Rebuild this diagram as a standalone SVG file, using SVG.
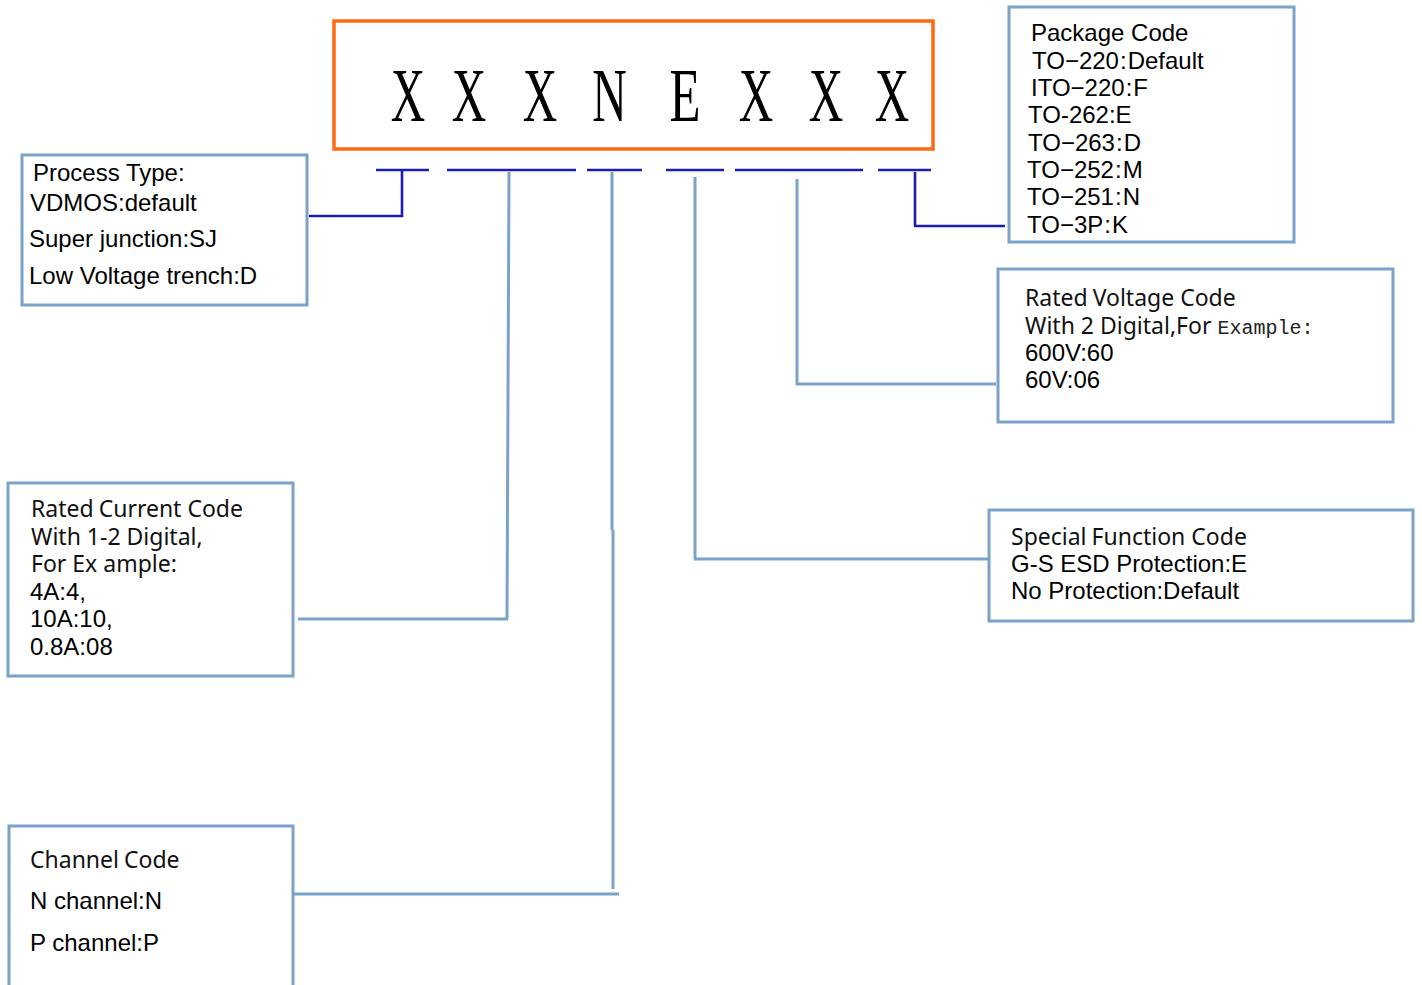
<svg xmlns="http://www.w3.org/2000/svg" width="1422" height="985" viewBox="0 0 1422 985">
<style>
.box{fill:#fff;stroke:#7BA2C9;stroke-width:3}
.main{fill:#fff;stroke:#FF6A10;stroke-width:3.5}
.dk{fill:none;stroke:#1C1CB0;stroke-width:2.6}
.lt{fill:none;stroke:#7BA2C9;stroke-width:3}
.a{font-family:"Liberation Sans",Arial,sans-serif;font-size:24px;fill:#000}
.s{font-family:"Noto Sans","Open Sans",sans-serif;font-size:23px;fill:#111}
.m{font-family:"Liberation Mono",monospace;font-size:20px;fill:#222}
.big{font-family:"Liberation Serif",serif;font-size:77px;fill:#000;text-anchor:middle}
</style>
<rect width="1422" height="985" fill="#fff"/>
<g id="connectors">
  <path class="dk" d="M376 170H429M447 170H576M587 170H642M666 170H724M735 170H863M878 170H931"/>
  <path class="dk" d="M402 170V217M309 216H403"/>
  <path class="dk" d="M915 172V226M914 226H1005"/>
  <path class="lt" d="M509 172L507 619M298 619H508"/>
  <path class="lt" d="M612 172V530M613 530V889M294 894H619"/>
  <path class="lt" d="M695 177V559M694 559H993"/>
  <path class="lt" d="M797 179V385M796 384H996"/>
</g>
<g id="code">
  <rect class="main" x="334" y="21" width="599" height="128"/>
  <text class="big" transform="translate(408,121) scale(0.62,1)">X</text>
  <text class="big" transform="translate(469,121) scale(0.62,1)">X</text>
  <text class="big" transform="translate(540,121) scale(0.62,1)">X</text>
  <text class="big" transform="translate(609.5,121) scale(0.62,1)">N</text>
  <text class="big" transform="translate(685,121) scale(0.66,1)">E</text>
  <text class="big" transform="translate(756,121) scale(0.62,1)">X</text>
  <text class="big" transform="translate(826,121) scale(0.62,1)">X</text>
  <text class="big" transform="translate(892,121) scale(0.62,1)">X</text>
</g>
<g id="package">
  <rect class="box" x="1009" y="7" width="285" height="235"/>
  <text class="a" x="1031" y="41">Package Code</text>
  <text class="a" x="1032" y="69">TO−220<tspan dx="1">:</tspan><tspan dx="1">Default</tspan></text>
  <text class="a" x="1031" y="96">ITO−220<tspan dx="1">:</tspan><tspan dx="1">F</tspan></text>
  <text class="a" x="1028" y="123">TO-262:E</text>
  <text class="a" x="1028" y="151">TO−263<tspan dx="1">:</tspan><tspan dx="1">D</tspan></text>
  <text class="a" x="1027" y="178">TO−252<tspan dx="1">:</tspan><tspan dx="1">M</tspan></text>
  <text class="a" x="1027" y="205">TO−251<tspan dx="1">:</tspan><tspan dx="1">N</tspan></text>
  <text class="a" x="1027" y="233">TO−3P<tspan dx="1">:</tspan><tspan dx="1">K</tspan></text>
</g>
<g id="process">
  <rect class="box" x="22" y="155" width="285" height="150"/>
  <text class="a" x="33" y="181">Process Type:</text>
  <text class="a" x="30" y="211">VDMOS:default</text>
  <text class="a" x="29" y="247">Super junction:SJ</text>
  <text class="a" x="29" y="284">Low Voltage trench:D</text>
</g>
<g id="voltage">
  <rect class="box" x="998" y="269" width="395" height="153"/>
  <text class="s" x="1025" y="306">Rated<tspan dx="5">Voltage Code</tspan></text>
  <text class="s" x="1025" y="334">With 2 Digital,For <tspan class="m">Example:</tspan></text>
  <text class="a" x="1025" y="361">600V:60</text>
  <text class="a" x="1025" y="388">60V:06</text>
</g>
<g id="special">
  <rect class="box" x="989" y="510" width="424" height="111"/>
  <text class="s" x="1011" y="545">Special<tspan dx="5">Function Code</tspan></text>
  <text class="a" x="1011" y="572">G-S ESD Protection:E</text>
  <text class="a" x="1011" y="599">No Protection:Default</text>
</g>
<g id="current">
  <rect class="box" x="8" y="483" width="285" height="193"/>
  <text class="s" x="31" y="517">Rated<tspan dx="5">Current Code</tspan></text>
  <text class="s" x="31" y="545">With 1-2 Digital,</text>
  <text class="s" x="31" y="572">For Ex ample:</text>
  <text class="a" x="30" y="600">4A:4,</text>
  <text class="a" x="30" y="627">10A:10,</text>
  <text class="a" x="30" y="655">0.8A:08</text>
</g>
<g id="channel">
  <rect class="box" x="9" y="826" width="284" height="170"/>
  <text class="s" x="30" y="868">Channel<tspan dx="5">Code</tspan></text>
  <text class="a" x="30" y="909">N channel:N</text>
  <text class="a" x="30" y="951">P channel:P</text>
</g>
</svg>
